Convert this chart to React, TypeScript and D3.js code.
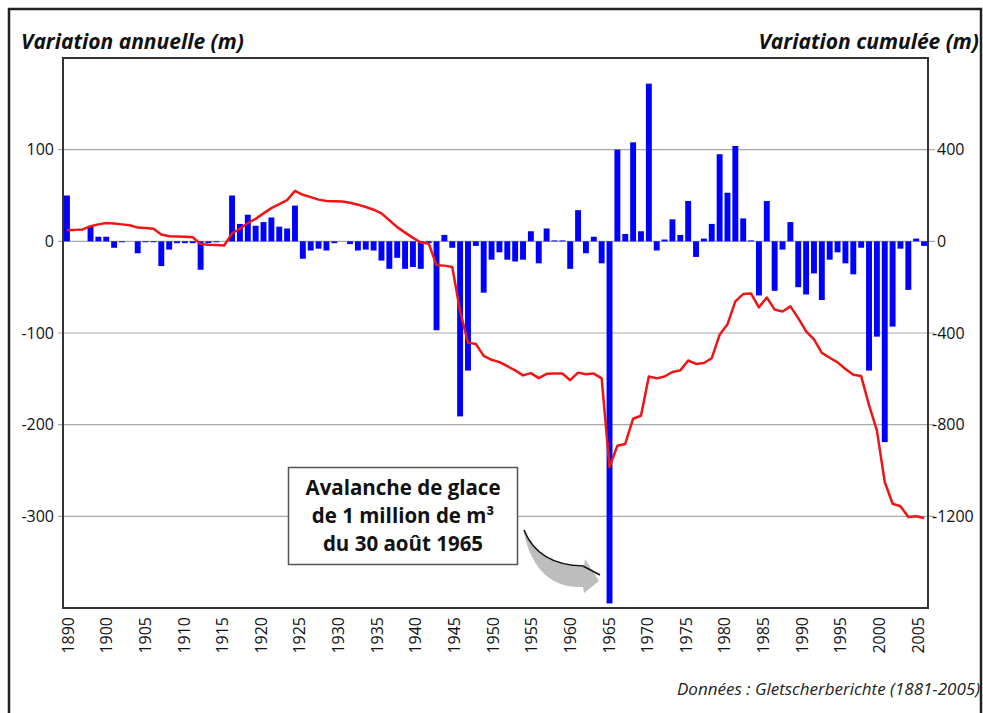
import { useEffect, useRef } from 'react';
import * as d3 from 'd3';

// Allalin-type glacier front: annual variation (bars, left axis) and cumulated variation (line, right axis).
const FIRST_YEAR = 1896;

// Annual variation in metres, 1896 → 2005
const ANNUAL = [
  50, 0, 0, 16, 5, 5, -7, -1, 0, -13,
  -1, -1, -27, -9, -2, -2, -2, -31, -2, -1,
  0, 50, 19, 29, 17, 21, 26, 16, 14, 39,
  -19, -10, -8, -10, -2, 0, -3, -10, -9, -10,
  -21, -30, -18, -30, -28, -30, -2, -97, 7, -7,
  -191, -141, -5, -56, -20, -12, -20, -22, -20, 11,
  -24, 14, 1, 1, -30, 34, -13, 5, -24, -395,
  100, 8, 108, 11, 172, -10, 2, 24, 7, 44,
  -17, 3, 19, 95, 53, 104, 25, 1, -59, 44,
  -54, -9, 21, -50, -58, -35, -64, -20, -12, -24,
  -36, -7, -141, -104, -219, -93, -8, -53, 3, -5,
];

// Cumulated variation in metres, 1896 → 2005
const CUMULATIVE = [
  50, 50, 52, 66, 74, 80, 78, 74, 70, 60,
  58, 55, 30, 22, 21, 20, 18, -12, -15, -16,
  -18, 35, 55, 80, 98, 122, 145, 162, 180, 220,
  203, 193, 182, 176, 175, 174, 168, 160, 150, 138,
  122, 92, 62, 38, 15, -5, -9, -104, -106, -112,
  -305, -442, -448, -500, -517, -527, -545, -563, -585, -575,
  -597, -578, -577, -577, -606, -573, -580, -577, -598, -985,
  -892, -884, -774, -761, -590, -598, -590, -570, -563, -520,
  -535, -531, -510, -408, -362, -262, -230, -228, -288, -245,
  -298, -306, -284, -335, -393, -428, -487, -508, -528, -557,
  -582, -588, -715, -825, -1050, -1145, -1156, -1203, -1200, -1207,
];

const LEFT_TICKS = [100, 0, -100, -200, -300];
const RIGHT_TICKS = [400, 0, -400, -800, -1200];
const X_TICK_LABELS = [
  '1890', '1900', '1905', '1910', '1915', '1920', '1925', '1930', '1935', '1940', '1945', '1950',
  '1955', '1960', '1965', '1970', '1975', '1980', '1985', '1990', '1995', '2000', '2005',
];
const NOTE_LINES = ['Avalanche de glace', 'de 1 million de m³', 'du 30 août 1965'];

const W = 983;
const H = 713;
const PLOT = { left: 63, right: 928, top: 58, bottom: 608 };
const FONT = '"Open Sans", "Noto Sans", sans-serif';

export default function App() {
  const svgRef = useRef<SVGSVGElement>(null);

  useEffect(() => {
    if (!svgRef.current) return;
    const svg = d3.select(svgRef.current);
    svg.selectAll('*').remove();

    const years = ANNUAL.map((_, i) => FIRST_YEAR + i);

    const x = d3.scaleBand<number>()
      .domain(years)
      .range([PLOT.left, PLOT.right])
      .paddingInner(0.25)
      .paddingOuter(0.125);
    const yLeft = d3.scaleLinear().domain([-400, 200]).range([PLOT.bottom, PLOT.top]);
    const yRight = d3.scaleLinear().domain([-1600, 800]).range([PLOT.bottom, PLOT.top]);
    const xLabel = d3.scalePoint<string>().domain(X_TICK_LABELS).range([PLOT.left + 5, PLOT.right - 10]);

    svg.append('rect').attr('width', W).attr('height', H).attr('fill', '#fff');

    // outer frame (top, left, right edges visible)
    svg.append('path')
      .attr('d', `M9,${H + 5} V9 H981 V${H + 5}`)
      .attr('fill', 'none')
      .attr('stroke', '#222')
      .attr('stroke-width', 2.5);

    // gridlines, running a little past both axes as ticks
    svg.append('g')
      .selectAll('line')
      .data(LEFT_TICKS)
      .join('line')
      .attr('x1', PLOT.left - 5)
      .attr('x2', PLOT.right + 7)
      .attr('y1', (d) => yLeft(d))
      .attr('y2', (d) => yLeft(d))
      .attr('stroke', '#a8a8a8')
      .attr('stroke-width', 1.2);

    // bars
    svg.append('g')
      .selectAll('rect')
      .data(ANNUAL.map((v, i) => ({ year: years[i], v })).filter((d) => d.v !== 0))
      .join('rect')
      .attr('x', (d) => x(d.year)!)
      .attr('width', x.bandwidth())
      .attr('y', (d) => yLeft(Math.max(0, d.v)))
      .attr('height', (d) => Math.abs(yLeft(d.v) - yLeft(0)))
      .attr('fill', '#0000ff');

    // cumulated line
    const line = d3.line<number>()
      .x((_, i) => x(years[i])! + x.bandwidth() / 2)
      .y((d) => yRight(d));
    svg.append('path')
      .datum(CUMULATIVE)
      .attr('d', line)
      .attr('fill', 'none')
      .attr('stroke', '#f01515')
      .attr('stroke-width', 2.5)
      .attr('stroke-linejoin', 'round');

    // plot box
    svg.append('rect')
      .attr('x', PLOT.left)
      .attr('y', PLOT.top)
      .attr('width', PLOT.right - PLOT.left)
      .attr('height', PLOT.bottom - PLOT.top)
      .attr('fill', 'none')
      .attr('stroke', '#333')
      .attr('stroke-width', 2);

    // left tick labels
    svg.append('g')
      .selectAll('text')
      .data(LEFT_TICKS)
      .join('text')
      .attr('x', PLOT.left - 9)
      .attr('y', (d) => yLeft(d))
      .attr('dy', '0.35em')
      .attr('text-anchor', 'end')
      .attr('font-family', FONT)
      .attr('font-size', 16)
      .attr('fill', '#111')
      .text((d) => String(d));

    // right tick labels
    svg.append('g')
      .selectAll('text')
      .data(RIGHT_TICKS)
      .join('text')
      .attr('x', (d) => (d < 0 ? PLOT.right + 4 : PLOT.right + 9))
      .attr('y', (d) => yRight(d))
      .attr('dy', '0.35em')
      .attr('font-family', FONT)
      .attr('font-size', 16)
      .attr('fill', '#111')
      .text((d) => String(d));

    // x tick labels, rotated
    svg.append('g')
      .selectAll('text')
      .data(X_TICK_LABELS)
      .join('text')
      .attr('transform', (d) => `translate(${xLabel(d)},${PLOT.bottom + 9}) rotate(-90)`)
      .attr('dy', '0.35em')
      .attr('text-anchor', 'end')
      .attr('font-family', FONT)
      .attr('font-size', 16)
      .attr('fill', '#111')
      .text((d) => d);

    // axis titles
    svg.append('text')
      .attr('x', 21)
      .attr('y', 49)
      .attr('font-family', FONT)
      .attr('font-size', 21)
      .attr('font-weight', 700)
      .attr('font-style', 'italic')
      .attr('fill', '#111')
      .text('Variation annuelle (m)');
    svg.append('text')
      .attr('x', 979)
      .attr('y', 49)
      .attr('text-anchor', 'end')
      .attr('font-family', FONT)
      .attr('font-size', 21)
      .attr('font-weight', 700)
      .attr('font-style', 'italic')
      .attr('fill', '#111')
      .text('Variation cumulée (m)');

    // source
    svg.append('text')
      .attr('x', 980)
      .attr('y', 695)
      .attr('text-anchor', 'end')
      .attr('font-family', FONT)
      .attr('font-size', 17)
      .attr('font-style', 'italic')
      .attr('fill', '#222')
      .text('Données : Gletscherberichte (1881-2005)');

    // annotation box
    const note = svg.append('g');
    note.append('rect')
      .attr('x', 288.5)
      .attr('y', 467.5)
      .attr('width', 229)
      .attr('height', 97)
      .attr('fill', '#fff')
      .attr('stroke', '#555')
      .attr('stroke-width', 1.5);
    note.selectAll('text.note')
      .data(NOTE_LINES)
      .join('text')
      .attr('class', 'note')
      .attr('x', 403)
      .attr('y', (_, i) => 495 + i * 28)
      .attr('text-anchor', 'middle')
      .attr('font-family', FONT)
      .attr('font-size', 20.5)
      .attr('font-weight', 700)
      .attr('fill', '#111')
      .text((d) => d);

    // curved arrow towards the 1965 bar
    note.append('path')
      .attr('d', 'M524,531 Q538,566 584,567 L585,559 L599,581 L584,593 L583,587 Q537,589 524,534 Z')
      .attr('fill', '#bdbdbd');
    note.append('path')
      .attr('d', 'M524,530 Q538,565 583,566 L600,575')
      .attr('fill', 'none')
      .attr('stroke', '#111')
      .attr('stroke-width', 1.6);
  }, []);

  return (
    <svg
      ref={svgRef}
      width={W}
      height={H}
      style={{ position: 'absolute', left: 0, top: 0, display: 'block' }}
    />
  );
}
